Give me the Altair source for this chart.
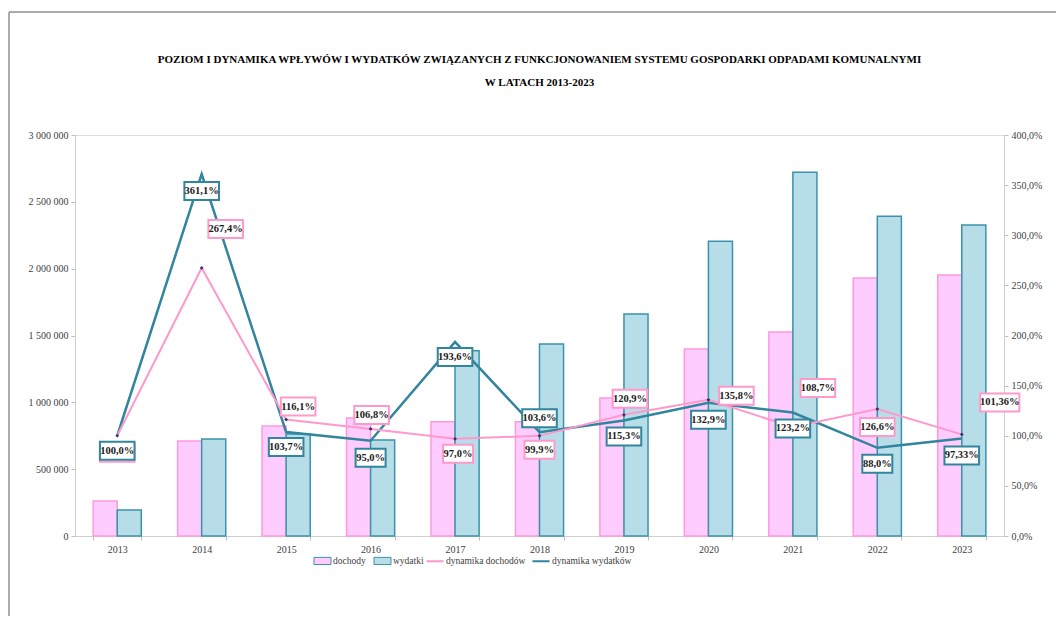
import altair as alt
import pandas as pd

years = ["2013", "2014", "2015", "2016", "2017", "2018", "2019", "2020", "2021", "2022", "2023"]
dochody = [262000, 711000, 823000, 883000, 855000, 855000, 1032000, 1399000, 1526000, 1930000, 1952000]
wydatki = [195000, 726000, 763000, 718000, 1386000, 1436000, 1660000, 2206000, 2722000, 2393000, 2326000]
dyn_doch = [100.0, 267.4, 116.1, 106.8, 97.0, 99.9, 120.9, 135.8, 108.7, 126.6, 101.36]
dyn_wyd = [100.0, 361.1, 103.7, 95.0, 193.6, 103.6, 115.3, 132.9, 123.2, 88.0, 97.33]
lab_doch = ["100,0%", "267,4%", "116,1%", "106,8%", "97,0%", "99,9%", "120,9%", "135,8%", "108,7%", "126,6%", "101,36%"]
lab_wyd = ["100,0%", "361,1%", "103,7%", "95,0%", "193,6%", "103,6%", "115,3%", "132,9%", "123,2%", "88,0%", "97,33%"]

# label placement (pixel offsets from the data point)
off_doch = [(0, 17), (24, -39), (12, -13), (1, -14), (3, 15), (0, 14), (6, -16), (28, -4), (25, -39), (0, 18), (38, -32)]
off_wyd = [(0, 15), (0, 17), (0, 15), (0, 17), (0, 15), (0, -14), (0, 16), (0, 17), (0, 16), (0, 16), (0, 17)]

bar_series = ["dochody", "wydatki"]
bar_colors = ["#FFCCFF", "#B7DEE8"]
line_series = ["dynamika dochodów", "dynamika wydatków"]
line_colors = ["#FF99CC", "#31859C"]

FONT = "Liberation Serif"

bars_df = pd.DataFrame(
    [{"year": y, "seria": "dochody", "value": v} for y, v in zip(years, dochody)]
    + [{"year": y, "seria": "wydatki", "value": v} for y, v in zip(years, wydatki)]
)
lines_df = pd.DataFrame(
    [{"year": y, "seria": "dynamika dochodów", "pct": v} for y, v in zip(years, dyn_doch)]
    + [{"year": y, "seria": "dynamika wydatków", "pct": v} for y, v in zip(years, dyn_wyd)]
)

x_scale = alt.Scale(domain=years, paddingInner=0.43, paddingOuter=0.215)
x_axis = alt.Axis(title=None, tickBand="extent", labelAngle=0, labelFont=FONT, labelFontSize=10,
                  labelColor="#404040", domainColor="#D0D0D0", tickColor="#BFBFBF", tickSize=4,
                  labelPadding=4, grid=False)

bar_legend = alt.Legend(
    title=None, orient="none", legendX=238, legendY=416, direction="horizontal", columns=2,
    symbolType="M-1,-0.42H1V0.42H-1Z", symbolSize=290, symbolStrokeWidth=1, symbolOpacity=1,
    labelFont=FONT, labelFontSize=9.5, labelColor="#404040", labelOffset=1, columnPadding=5,
)
line_legend = alt.Legend(
    title=None, orient="none", legendX=350, legendY=416, direction="horizontal", columns=2,
    symbolType="stroke", symbolSize=290, symbolStrokeWidth=2, symbolOpacity=1,
    labelFont=FONT, labelFontSize=9.5, labelColor="#404040", labelOffset=1, columnPadding=2,
)

left_axis = alt.Axis(title=None, orient="left", values=list(range(0, 3000001, 500000)),
                     labelExpr="replace(replace(format(datum.value, ',d'), ',', ' '), ',', ' ')",
                     labelFont=FONT, labelFontSize=10, labelColor="#404040", grid=False,
                     domainColor="#D0D0D0", tickColor="#BFBFBF", tickSize=4, labelPadding=3)
right_axis = alt.Axis(title=None, orient="right", values=list(range(0, 401, 50)),
                      labelExpr="replace(format(datum.value, '.1f'), '.', ',') + '%'",
                      labelFont=FONT, labelFontSize=10, labelColor="#404040", grid=False,
                      domainColor="#D0D0D0", tickColor="#BFBFBF", tickSize=4, labelPadding=3)
pct_scale = alt.Scale(domain=[0, 400])
line_scale = alt.Scale(domain=line_series, range=line_colors)

bars = alt.Chart(bars_df).mark_bar(strokeWidth=1.5).encode(
    x=alt.X("year:N", scale=x_scale, axis=x_axis),
    xOffset=alt.XOffset("seria:N", scale=alt.Scale(domain=bar_series, paddingInner=0)),
    y=alt.Y("value:Q", scale=alt.Scale(domain=[0, 3000000]), axis=left_axis),
    fill=alt.Fill("seria:N", scale=alt.Scale(domain=bar_series, range=bar_colors), legend=bar_legend),
    stroke=alt.condition("datum.seria == 'dochody'", alt.value("#FF99DD"), alt.value("#3A93AA")),
)

line_w = alt.Chart(lines_df).transform_filter(alt.datum.seria == "dynamika wydatków").mark_line(strokeWidth=2.5).encode(
    x=alt.X("year:N", scale=x_scale, axis=x_axis),
    y=alt.Y("pct:Q", scale=pct_scale, axis=right_axis),
    stroke=alt.Stroke("seria:N", scale=line_scale, legend=line_legend),
)
line_d = alt.Chart(lines_df).transform_filter(alt.datum.seria == "dynamika dochodów").mark_line(strokeWidth=2).encode(
    x=alt.X("year:N", scale=x_scale, axis=x_axis),
    y=alt.Y("pct:Q", scale=pct_scale, axis=right_axis),
    stroke=alt.Stroke("seria:N", scale=line_scale, legend=line_legend),
)
pts_d = alt.Chart(lines_df).transform_filter(alt.datum.seria == "dynamika dochodów").mark_point(
    shape="diamond", filled=True, size=14, color="#333366", opacity=1).encode(
    x=alt.X("year:N", scale=x_scale, axis=x_axis),
    y=alt.Y("pct:Q", scale=pct_scale, axis=right_axis),
)


def box_path(text, dx, dy):
    w = 4.6 * len(text) + 7
    h = 18
    return f"M{dx - w / 2},{dy - h / 2}H{dx + w / 2}V{dy + h / 2}H{dx - w / 2}Z"


label_layers = []
for labs, vals, offs, col in [(lab_doch, dyn_doch, off_doch, "#FF99CC"), (lab_wyd, dyn_wyd, off_wyd, "#31859C")]:
    ldf = pd.DataFrame({
        "year": years, "pct": vals, "label": labs,
        "path": [box_path(t, o[0], o[1]) for t, o in zip(labs, offs)],
    })
    box = alt.Chart(ldf).mark_point(filled=True, fill="white", stroke=col, strokeWidth=2, size=4, opacity=1).encode(
        x=alt.X("year:N", scale=x_scale, axis=x_axis),
        y=alt.Y("pct:Q", scale=pct_scale, axis=right_axis),
        shape=alt.Shape("path:N", scale=None, legend=None),
    )
    label_layers.append(box)
    for i, (t, o) in enumerate(zip(labs, offs)):
        txt = alt.Chart(ldf).transform_filter(alt.datum.year == years[i]).mark_text(
            dx=o[0], dy=o[1], font=FONT, fontSize=10.5, fontWeight="bold", color="#1A1A1A",
            baseline="middle", align="center").encode(
            x=alt.X("year:N", scale=x_scale, axis=x_axis),
            y=alt.Y("pct:Q", scale=pct_scale, axis=right_axis),
            text="label:N",
        )
        label_layers.append(txt)

right = alt.layer(line_w, line_d, pts_d, *label_layers)

frame_df = pd.DataFrame({"a": [0]})
frame_left = alt.Chart(frame_df).mark_rule(color="#909090", strokeWidth=1.5).encode(
    x=alt.value(-66), y=alt.value(-123), y2=alt.value(495))
frame_top = alt.Chart(frame_df).mark_rule(color="#909090", strokeWidth=1.5).encode(
    x=alt.value(-66), x2=alt.value(990), y=alt.value(-123))

chart = alt.layer(bars, right, frame_left, frame_top).resolve_scale(y="independent").properties(
    width=929, height=401,
    autosize=alt.AutoSizeParams(type="none"),
    padding={"left": 67, "top": 127, "right": 52, "bottom": 80},
    title=alt.Title(
        ["POZIOM I DYNAMIKA WPŁYWÓW I WYDATKÓW ZWIĄZANYCH Z FUNKCJONOWANIEM SYSTEMU GOSPODARKI  ODPADAMI KOMUNALNYMI",
         "W LATACH 2013-2023"],
        font=FONT, fontSize=11, fontWeight="bold", color="#000000", anchor="middle", offset=-77, lineHeight=23,
    ),
).configure_view(stroke=None).configure(background="white")

chart.save("out.html", embed_options={"renderer": "svg", "actions": False})
